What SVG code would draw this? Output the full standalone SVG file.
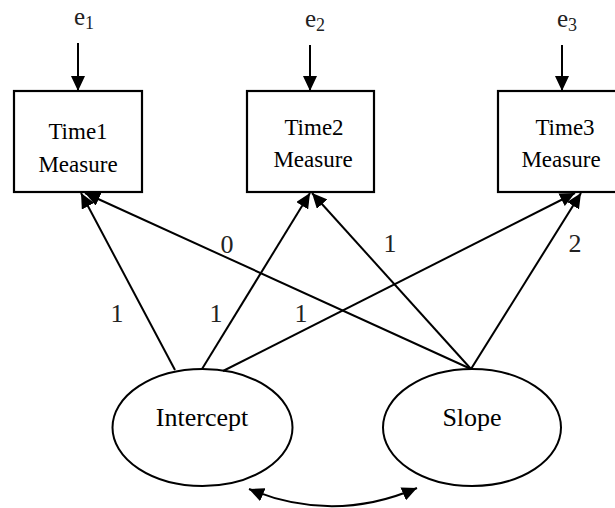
<svg xmlns="http://www.w3.org/2000/svg" width="615" height="508" viewBox="0 0 615 508">
<style>
  .box { fill: #fff; stroke: #000; stroke-width: 2.2; }
  .lat { fill: #fff; stroke: #000; stroke-width: 2; }
  .txt { font-family: "Liberation Serif", "Times New Roman", serif; fill: #000; text-anchor: middle; }
  .lbl { font-family: "Liberation Serif", "Times New Roman", serif; fill: #222; text-anchor: middle; font-size: 26px; }
  .err { font-family: "Liberation Serif", "Times New Roman", serif; fill: #222; font-size: 25px; }
  .con { fill: none; stroke: #000; stroke-width: 2; marker-end: url(#ah); }
</style>
<defs>
  <marker id="ah" markerUnits="userSpaceOnUse" markerWidth="16" markerHeight="14" refX="15" refY="7" orient="auto-start-reverse">
    <path d="M0,0 L15,7 L0,14 z" fill="#000"/>
  </marker>
</defs>
<rect width="615" height="508" fill="#fff"/>

<g id="e1">
  <text class="err" x="74" y="25">e<tspan font-size="18" dy="4">1</tspan></text>
</g>
<g id="e2">
  <text class="err" x="305" y="27">e<tspan font-size="18" dy="4">2</tspan></text>
</g>
<g id="e3">
  <text class="err" x="557" y="27">e<tspan font-size="18" dy="4">3</tspan></text>
</g>

<g id="time1">
  <rect class="box" x="14" y="91" width="128" height="101"/>
  <text class="txt" x="78" y="139" font-size="23">Time1</text>
  <text class="txt" x="78" y="172" font-size="23">Measure</text>
</g>
<g id="time2">
  <rect class="box" x="247" y="91" width="127" height="101"/>
  <text class="txt" x="314" y="135" font-size="23">Time2</text>
  <text class="txt" x="313" y="167" font-size="23">Measure</text>
</g>
<g id="time3">
  <rect class="box" x="498" y="91" width="128" height="101"/>
  <text class="txt" x="565" y="135" font-size="23">Time3</text>
  <text class="txt" x="561" y="167" font-size="23">Measure</text>
</g>

<g id="intercept">
  <ellipse class="lat" cx="202.5" cy="427.5" rx="90" ry="58.5"/>
  <text class="txt" x="202" y="426" font-size="26">Intercept</text>
</g>
<g id="slope">
  <ellipse class="lat" cx="472" cy="427.5" rx="89" ry="58.5"/>
  <text class="txt" x="472" y="426" font-size="26">Slope</text>
</g>

<g id="connectors">
  <path class="con" d="M78 43 L78 91"/>
  <path class="con" d="M310 45 L310 91"/>
  <path class="con" d="M562 45 L562 91"/>
  <path class="con" d="M175 370 L81 193"/>
  <path class="con" d="M202 369 L310 193"/>
  <path class="con" d="M223 371 L575 193"/>
  <path class="con" d="M471 369 L85 193"/>
  <path class="con" d="M471 369 L312 193"/>
  <path class="con" d="M471 369 L581 193"/>
  <path d="M249 489 Q 333 524 417 488" fill="none" stroke="#000" stroke-width="2" marker-start="url(#ah)" marker-end="url(#ah)"/>
</g>

<g id="labels">
  <text class="lbl" x="117" y="322">1</text>
  <text class="lbl" x="216" y="322">1</text>
  <text class="lbl" x="301" y="322">1</text>
  <text class="lbl" x="227" y="253">0</text>
  <text class="lbl" x="390" y="252">1</text>
  <text class="lbl" x="575" y="252">2</text>
</g>
</svg>
